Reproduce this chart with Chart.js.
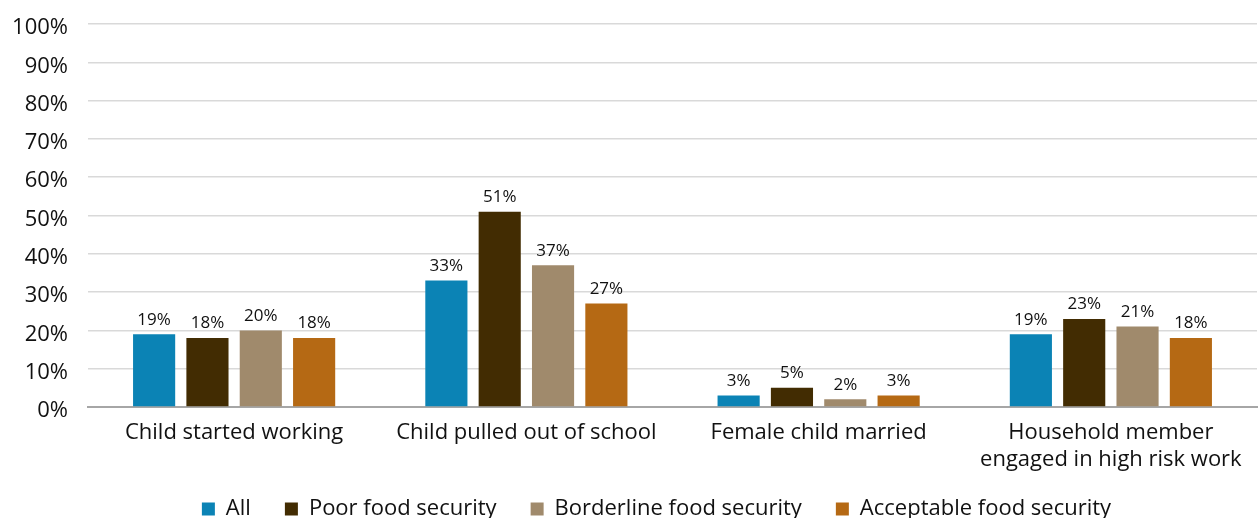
<!DOCTYPE html>
<html>
<head>
<meta charset="utf-8">
<script src="https://cdn.jsdelivr.net/npm/chart.js@4/dist/chart.umd.min.js"></script>
<style>
  html, body { margin: 0; padding: 0; background: #fff; }
  #wrap { width: 1259px; height: 518px; position: relative; }
</style>
</head>
<body>
<div id="wrap"><canvas id="c"></canvas></div>
<script>
// Coping strategies by food security group (share of households)
const categories = [
  'Child started working',
  'Child pulled out of school',
  'Female child married',
  ['Household member', 'engaged in high risk work']
];
const seriesNames = ['All', 'Poor food security', 'Borderline food security', 'Acceptable food security'];
const allValues = [19, 33, 3, 19];
const poorValues = [18, 51, 5, 23];
const borderlineValues = [20, 37, 2, 21];
const acceptableValues = [18, 27, 3, 18];
const yTicks = [0, 10, 20, 30, 40, 50, 60, 70, 80, 90, 100];

const colors = ['#0b83b5', '#422c02', '#a08a6c', '#b56914'];
const FONT = '"Open Sans", Roboto, sans-serif';
const TEXT = '#111111';

// Writes each bar's value just above it
const valueLabels = {
  id: 'valueLabels',
  afterDatasetsDraw(chart) {
    const ctx = chart.ctx;
    ctx.save();
    ctx.font = '17px ' + FONT;
    ctx.fillStyle = TEXT;
    ctx.textAlign = 'center';
    ctx.textBaseline = 'bottom';
    chart.data.datasets.forEach((ds, i) => {
      chart.getDatasetMeta(i).data.forEach((bar, j) => {
        ctx.fillText(ds.data[j] + '%', bar.x, bar.y - 6);
      });
    });
    ctx.restore();
  }
};

// Nudges the legend row to the right of the canvas centre
const legendShift = {
  id: 'legendShift',
  afterLayout(chart) {
    const lg = chart.legend;
    if (lg) { lg.left += 28; lg.right += 28; }
  }
};

const seriesValues = [allValues, poorValues, borderlineValues, acceptableValues];

new Chart(document.getElementById('c'), {
  type: 'bar',
  data: {
    labels: categories,
    datasets: seriesNames.map((name, i) => ({
      label: name,
      data: seriesValues[i],
      backgroundColor: colors[i],
      borderWidth: 0,
      categoryPercentage: 0.73,
      barPercentage: 0.79
    }))
  },
  options: {
    responsive: true,
    maintainAspectRatio: false,
    animation: false,
    layout: { padding: { left: 0, right: 2, top: 24, bottom: -12 } },
    plugins: {
      tooltip: { enabled: false },
      legend: {
        position: 'bottom',
        labels: {
          font: { family: FONT, size: 22 },
          color: TEXT,
          boxWidth: 13,
          boxHeight: 13,
          padding: 34
        }
      }
    },
    scales: {
      x: {
        grid: { display: false, drawTicks: false },
        border: { display: true, color: '#a6a6a6', width: 2 },
        afterFit(scale) {
          // keep the legend snug under the two-line category label
          scale.height = 57;
          scale._computeLabelArea = () => null;
        },
        ticks: {
          font: { family: FONT, size: 22, lineHeight: 1.2 },
          color: TEXT,
          padding: 13,
          maxRotation: 0,
          autoSkip: false
        }
      },
      y: {
        min: 0,
        max: 100,
        afterBuildTicks(scale) {
          scale.ticks = yTicks.map(v => ({ value: v }));
        },
        afterFit(scale) {
          scale.width = 88;
          scale.paddingTop = 0;
          scale.paddingBottom = 0;
        },
        grid: { color: '#d9d9d9', lineWidth: 1.5, drawTicks: false },
        border: { display: false },
        ticks: {
          font: { family: FONT, size: 22 },
          color: TEXT,
          padding: 20,
          labelOffset: 4,
          callback: v => v + '%'
        }
      }
    }
  },
  plugins: [valueLabels, legendShift]
});
</script>
</body>
</html>
